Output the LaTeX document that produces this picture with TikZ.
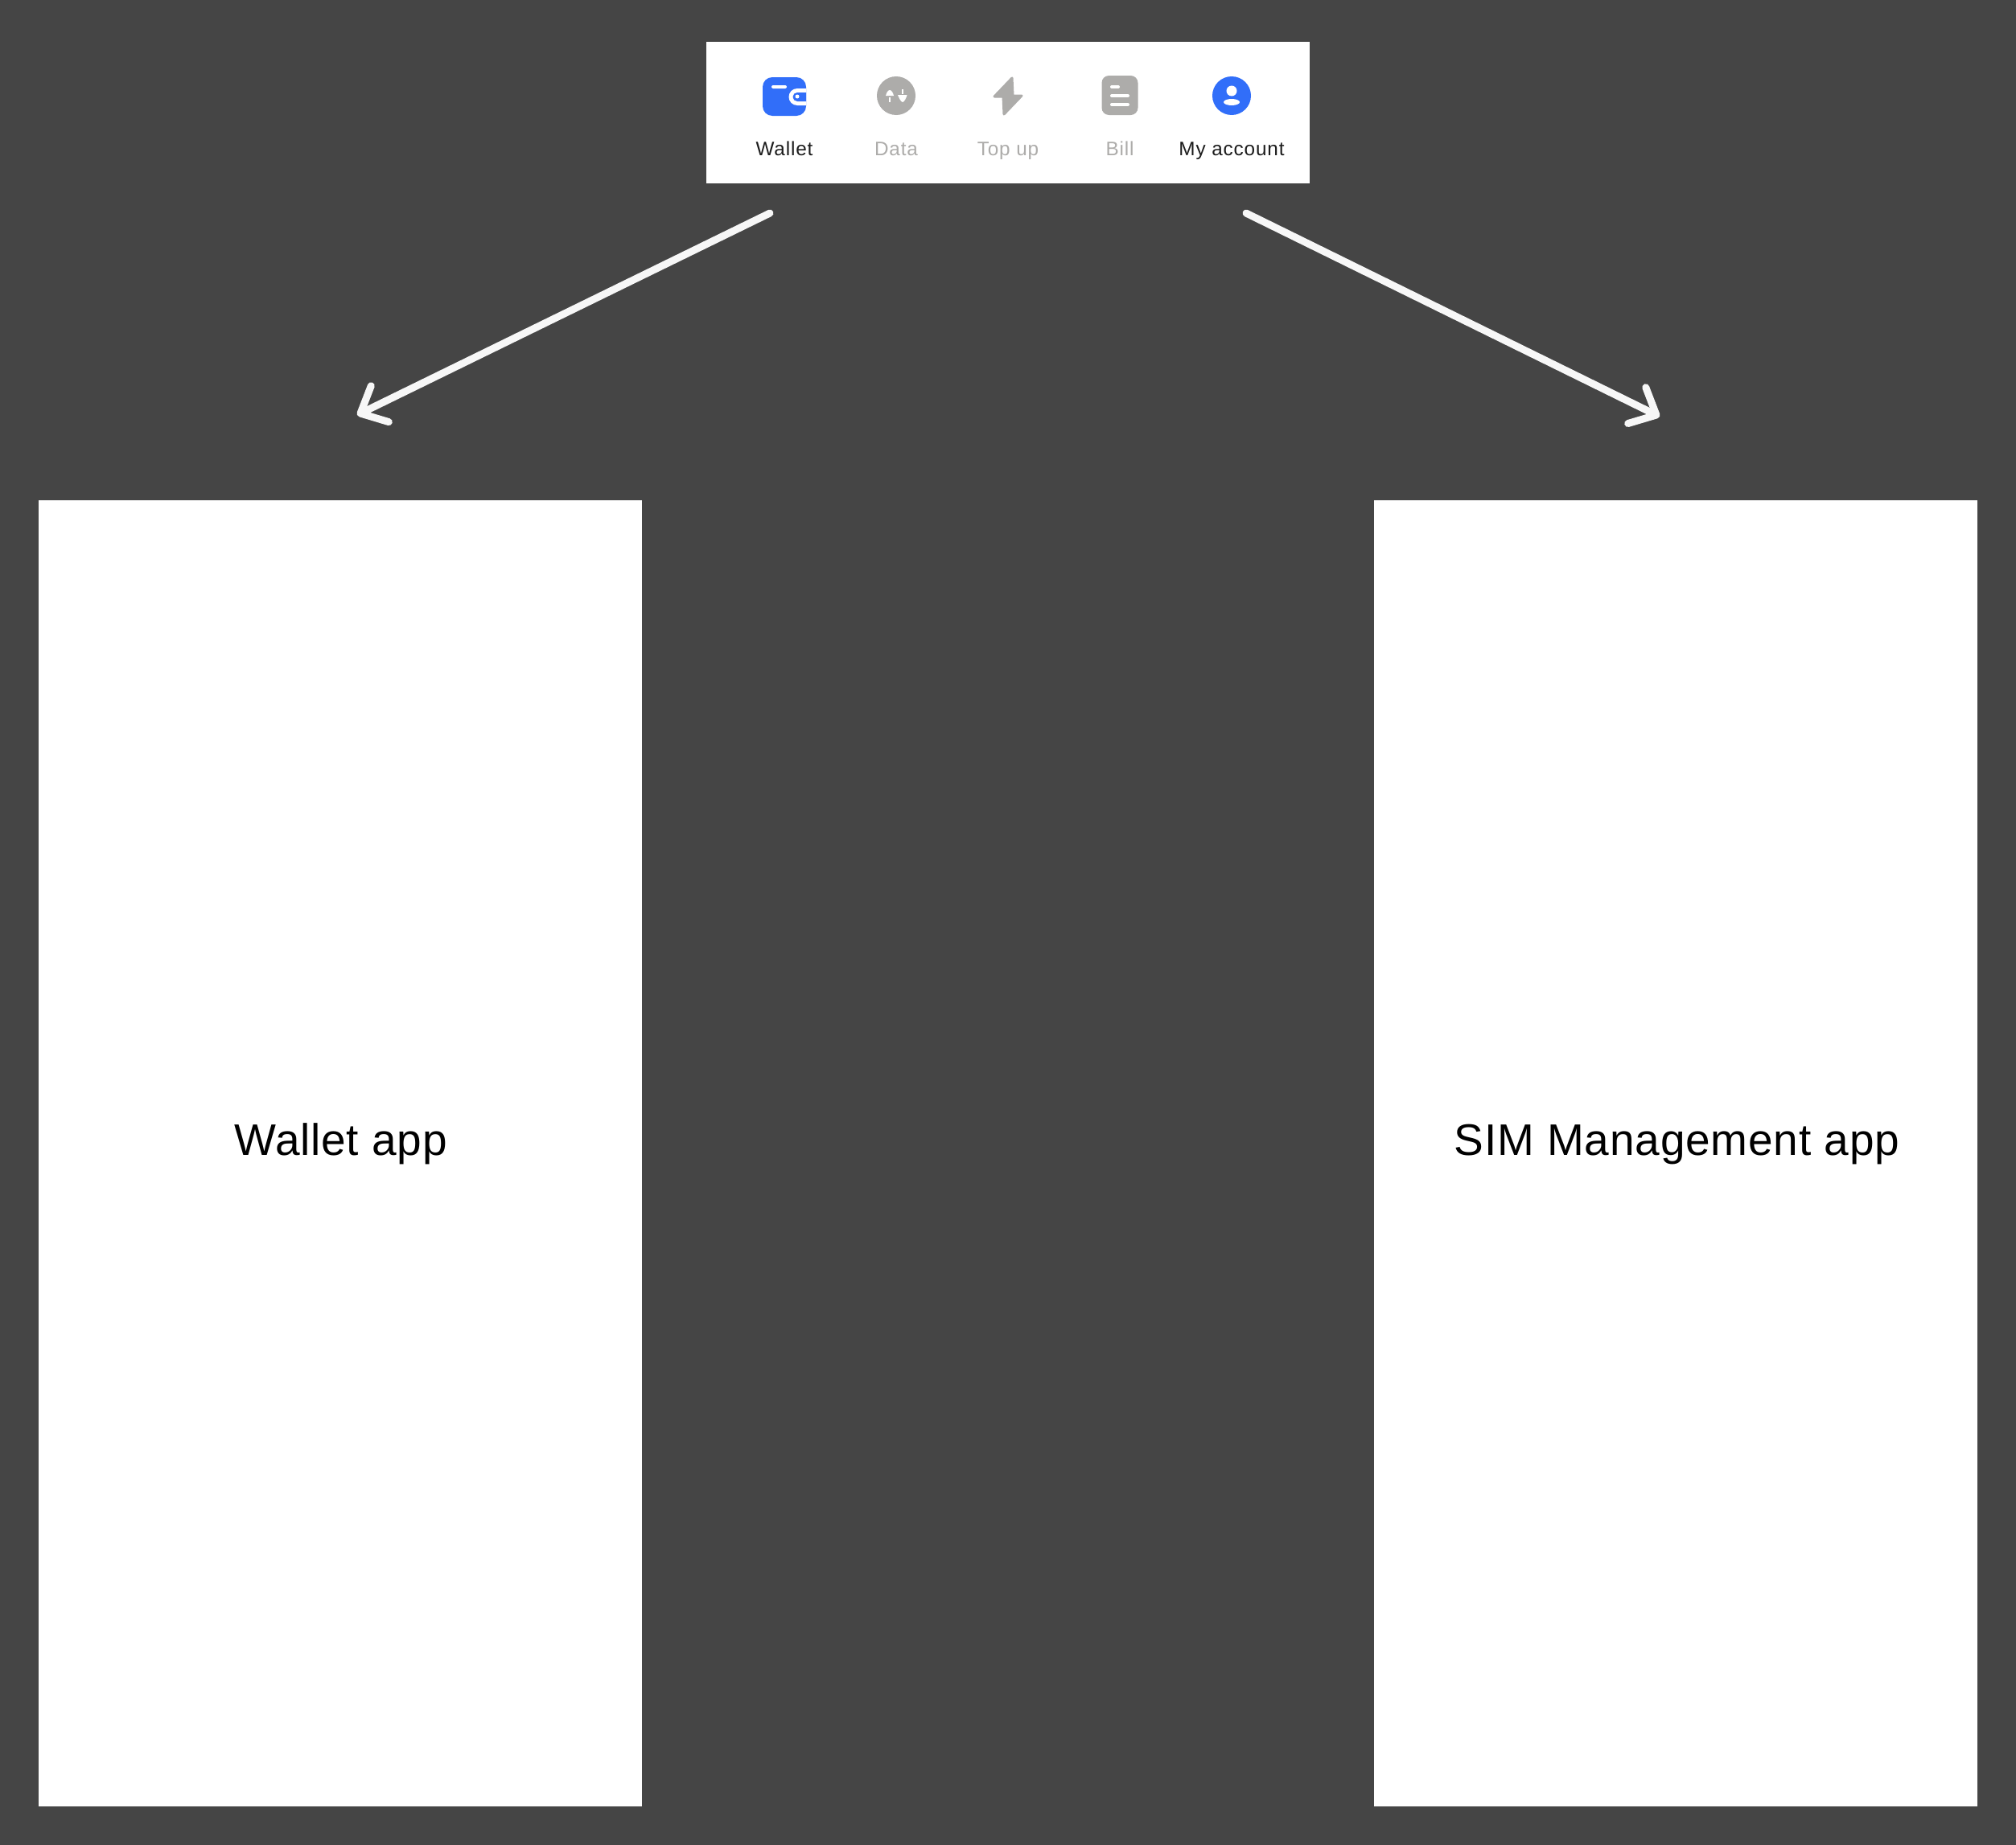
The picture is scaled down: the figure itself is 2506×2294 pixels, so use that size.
\documentclass[tikz,border=0pt]{standalone}
\usepackage{fontspec}
\setmainfont{Liberation Sans}
\newfontfamily\labelfont[LetterSpace=1.5]{Liberation Sans}
\newfontfamily\tabfont[LetterSpace=3.5]{Liberation Sans}
\usetikzlibrary{arrows.meta}
\definecolor{bgdark}{HTML}{454545}
\definecolor{inkdark}{HTML}{1C1C1C}
\definecolor{mutedgrey}{HTML}{ADACAA}
\definecolor{accentblue}{HTML}{316EF9}
\tikzset{
  x=1pt,y=-1pt,
  panel/.style={fill=white,draw=none,inner sep=0pt,anchor=north west},
  bigtext/.style={text=black,anchor=base,inner sep=0pt,font=\labelfont\fontsize{55}{60}\selectfont},
  tab/.style={inner sep=0pt,anchor=base,font=\tabfont\fontsize{24.3}{28}\selectfont},
  tabon/.style={tab,text=inkdark},
  taboff/.style={tab,text=mutedgrey},
  conn/.style={draw=white!97!black,line width=9pt,line cap=round,line join=round,
    -{Straight Barb[round,length=27pt,width=50pt,line width=9pt]}},
  hole/.style={fill=white,draw=none},
}
\begin{document}
\begin{tikzpicture}
\useasboundingbox (0,0) rectangle (2506,2294);
\fill[bgdark] (0,0) rectangle (2506,2294);

% panels
\node[panel,minimum width=750pt,minimum height=176pt] (bar) at (878,52) {};
\node[panel,minimum width=750pt,minimum height=1624pt] (walletapp) at (48,622) {};
\node[panel,minimum width=750pt,minimum height=1624pt] (simapp) at (1708,622) {};
\node[bigtext] (wallettext) at (423.5,1436) {Wallet app};
\node[bigtext] (simtext) at (2084.5,1436) {SIM Management app};

% tab labels
\node[tabon]  (lwallet) at (975,193) {Wallet};
\node[taboff] (ldata)   at (1114,193) {Data};
\node[taboff] (ltopup)  at (1253,193) {Top up};
\node[taboff] (lbill)   at (1392,193) {Bill};
\node[tabon]  (lacct)   at (1531,193) {My account};

% wallet icon
\fill[accentblue,rounded corners=12pt] (948,96) rectangle (1002,144);
\fill[hole,rounded corners=2pt] (959,106) rectangle (978,110);
\fill[hole] (1002,110) -- (991,110) arc[start angle=270,end angle=90,radius=10.5] -- (1002,131) -- cycle;
\fill[accentblue] (1002,115) -- (991,115) arc[start angle=270,end angle=90,radius=5.5] -- (1002,126) -- cycle;
\fill[hole] (991,120) circle[radius=2.5];

% data icon
\fill[mutedgrey] (1114,119) circle[radius=24];
\fill[hole] (1101,119) .. controls (1102,115) and (1104,112) .. (1106,112) .. controls (1108,112) and (1110,115) .. (1111,119) -- cycle;
\fill[hole] (1105.2,121) rectangle (1106.8,127);
\fill[hole] (1116,118) -- (1127.5,118) .. controls (1127,121) and (1124,127) .. (1122,127) .. controls (1120,127) and (1117,121) .. (1116,118) -- cycle;
\fill[hole] (1121.2,111) rectangle (1122.8,117);

% top up icon
\fill[mutedgrey,draw=mutedgrey,line width=3pt,line join=round]
  (1258,97) -- (1236,120) -- (1247,120) -- (1248,142) -- (1270,119) -- (1259,119) -- cycle;

% bill icon
\fill[mutedgrey,rounded corners=9pt] (1369.5,94) rectangle (1414.5,143);
\draw[white,line width=4pt,line cap=round] (1382,108) -- (1390,108);
\draw[white,line width=4pt,line cap=round] (1382,119) -- (1402,119);
\draw[white,line width=4pt,line cap=round] (1382,130) -- (1402,130);

% account icon
\fill[accentblue] (1531,119) circle[radius=24];
\fill[hole] (1531,113) circle[radius=6.5];
\fill[hole] (1531,127) ellipse[x radius=10,y radius=4];

% connectors
\coordinate (lstart) at (957,265);
\coordinate (ltip) at (444,516);
\coordinate (rstart) at (1549,265);
\coordinate (rtip) at (2063,518);
\draw[conn] (lstart) -- (ltip);
\draw[conn] (rstart) -- (rtip);
\end{tikzpicture}
\end{document}
